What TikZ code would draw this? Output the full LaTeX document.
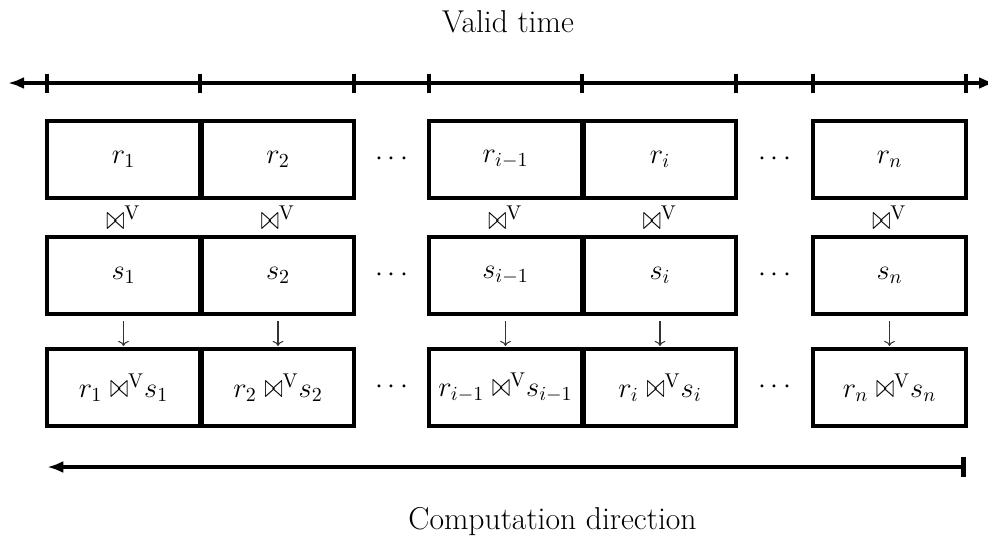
\RequirePackage{fix-cm}
\documentclass[tikz,border=0pt]{standalone}
\usetikzlibrary{positioning}
\usetikzlibrary{arrows.meta}
\tikzset{
    cellbox/.style={
        draw,rectangle,line width=2pt,
        minimum width=3.05cm,minimum height=1.54cm,
        outer sep=0pt,inner sep=1pt,
        },
    plainnode/.style={
        rectangle,minimum height=1.54cm,
        outer sep=0pt,inner sep=1pt,
        },
    tick/.style={line width=2.5pt},
    timeline/.style={line width=2.2pt},
    flowarrow/.style={->,line width=.6pt,draw=black!80,shorten <=.14cm,shorten >=.06cm},
    bigtext/.style={font=\fontsize{18}{21}\selectfont}
    }
\newcommand*{\smalljoin}{\mathord{\scalebox{.78}[1.2]{$\bowtie$}}}
\newcommand*{\vjoin}{\smalljoin^{\mathrm{V}}}
\newcommand*{\vres}[2]{#1\;\smalljoin^{\mathrm{V}}#2}

\begin{document}
\begin{tikzpicture}[font=\fontsize{16.2}{19}\selectfont]
    \useasboundingbox (0,0) rectangle (19.76,-10.84);
    % relation r
    \node[cellbox] (r1) at (2.47,-3.19) {$r_1$};
    \node[cellbox] (r2) [right=.04cm of r1] {$r_2$};
    \node[plainnode,minimum width=1.5cm] (rd1) [right=0pt of r2] {$\cdots$};
    \node[cellbox] (r3) [right=0pt of rd1] {$r_{i-1}$};
    \node[cellbox] (r4) [right=.04cm of r3] {$r_i$};
    \node[plainnode,minimum width=1.54cm] (rd2) [right=0pt of r4] {$\cdots$};
    \node[cellbox] (r5) [right=0pt of rd2] {$r_n$};
    % relation s
    \node[cellbox] (s1) [below=.78cm of r1] {$s_1$} edge[draw=none] node {$\vjoin$} (r1);
    \node[cellbox] (s2) [right=.04cm of s1] {$s_2$} edge[draw=none] node {$\vjoin$} (r2);
    \node[plainnode,minimum width=1.5cm] (sd1) [right=0pt of s2] {$\cdots$};
    \node[cellbox] (s3) [right=0pt of sd1] {$s_{i-1}$} edge[draw=none] node {$\vjoin$} (r3);
    \node[cellbox] (s4) [right=.04cm of s3] {$s_i$} edge[draw=none] node {$\vjoin$} (r4);
    \node[plainnode,minimum width=1.54cm] (sd2) [right=0pt of s4] {$\cdots$};
    \node[cellbox] (s5) [right=0pt of sd2] {$s_n$} edge[draw=none] node {$\vjoin$} (r5);
    % results
    \node[cellbox] (w1) [below=.7cm of s1] {$\vres{r_1}{s_1}$};
    \node[cellbox] (w2) [right=.04cm of w1] {$\vres{r_2}{s_2}$};
    \node[plainnode,minimum width=1.5cm] (wd1) [right=0pt of w2] {$\cdots$};
    \node[cellbox] (w3) [right=0pt of wd1] {$\vres{r_{i-1}}{s_{i-1}}$};
    \node[cellbox] (w4) [right=.04cm of w3] {$\vres{r_i}{s_i}$};
    \node[plainnode,minimum width=1.54cm] (wd2) [right=0pt of w4] {$\cdots$};
    \node[cellbox] (w5) [right=0pt of wd2] {$\vres{r_n}{s_n}$};
    \foreach \i in {1,...,5}
        \draw[flowarrow] (s\i) -- (w\i);
    % valid time axis
    \coordinate (al) at (0.16,-1.66);
    \coordinate (ar) at (19.9,-1.66);
    \draw[timeline,{Latex[length=.32cm,width=.24cm]}-{Latex[length=.32cm,width=.24cm]}] (al) -- (ar);
    \foreach \n/\a in {r1/west,r1/east,r2/east,r3/west,r3/east,r4/east,r5/west,r5/east}
        \draw[tick] (\n.\a |- al) ++(0,.19) -- ++(0,-.38);
    \node[bigtext] (vt) at (10.16,-0.44) {Valid time};
    % computation direction
    \coordinate (cb) at (0,-9.34);
    \draw[timeline,{Latex[length=.32cm,width=.24cm]}-{Bar[width=.4cm,line width=2.5pt]}] (w1.west |- cb) -- (w5.east |- cb);
    \node[bigtext] (cd) at (11.05,-10.44) {Computation direction};
\end{tikzpicture}
\end{document}
